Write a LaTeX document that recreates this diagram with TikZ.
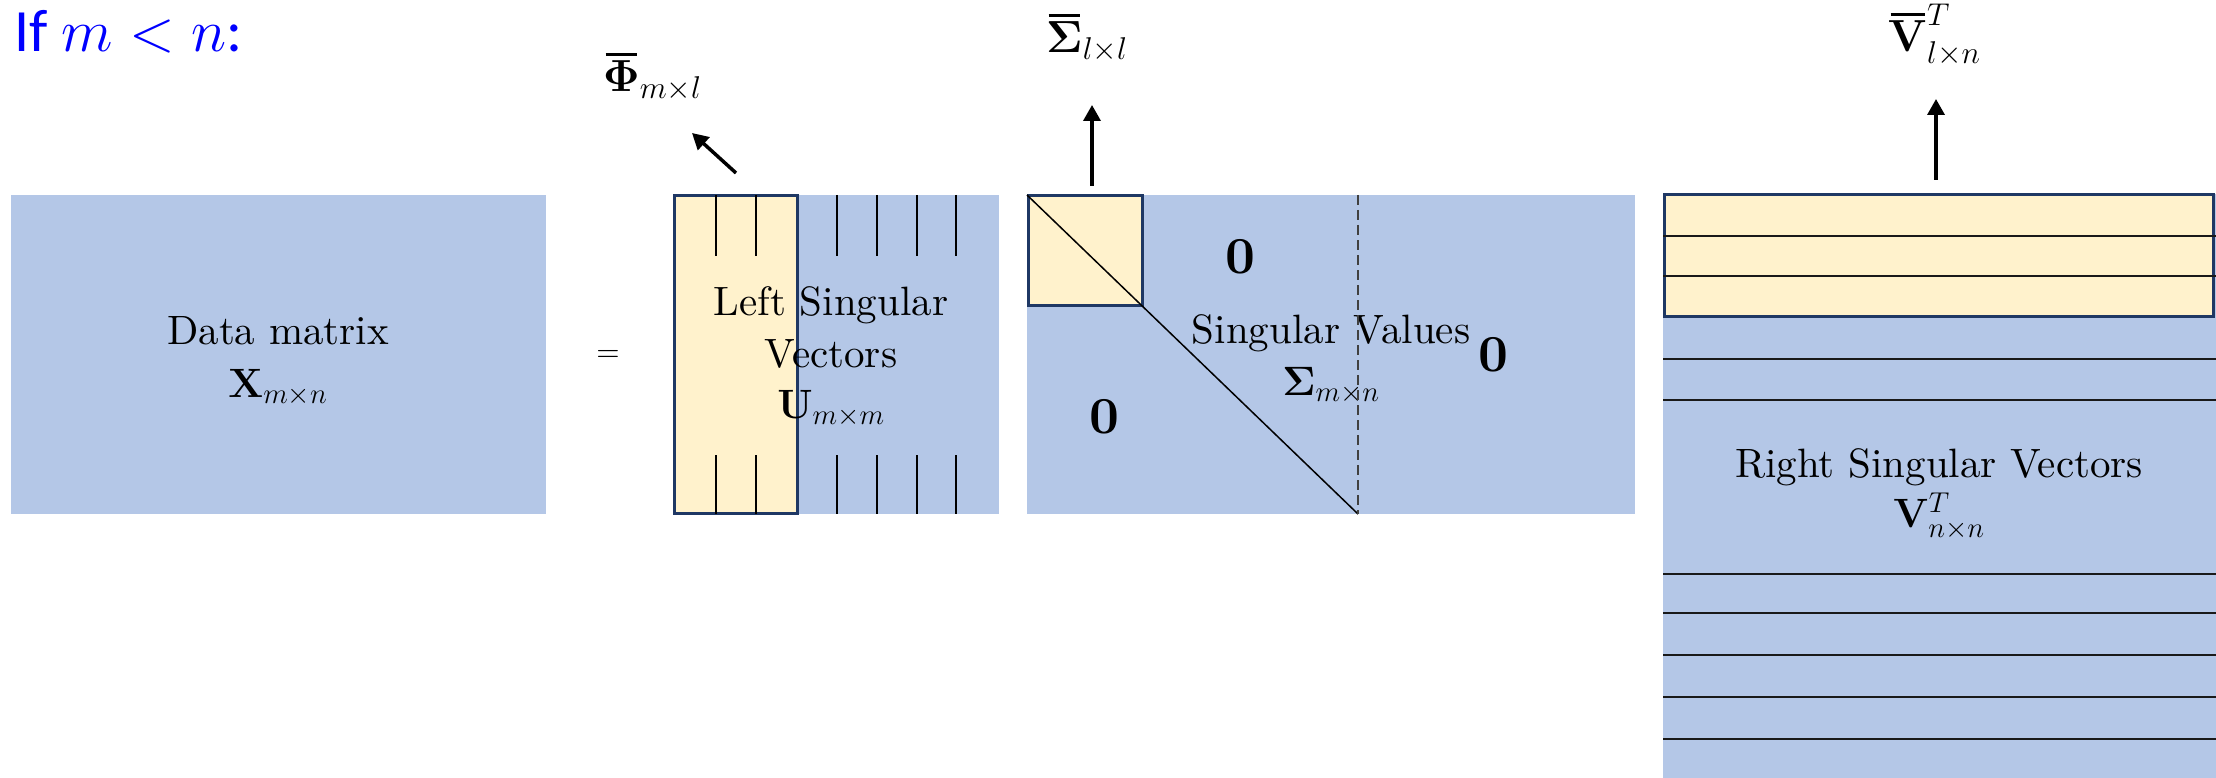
\RequirePackage{fix-cm}
\documentclass[tikz,border=0pt]{standalone}
\usepackage[no-math]{fontspec}
\setmainfont{lmroman10-regular.otf}[BoldFont=lmroman10-bold.otf, ItalicFont=lmroman10-italic.otf, BoldItalicFont=lmroman10-bolditalic.otf]
\newfontfamily\carlito{Carlito}
\usetikzlibrary{arrows.meta}
\definecolor{mblue}{HTML}{B4C7E7}
\definecolor{myel}{HTML}{FFF2CC}
\definecolor{navy}{HTML}{1F3864}
\definecolor{dgray}{HTML}{404040}
\definecolor{tblue}{RGB}{0,0,255}
\newcommand\tbar[1]{\setbox0\hbox{$#1$}\vbox{\offinterlineskip\moveright2.5pt\hbox{\vrule height 3pt depth 0pt width \dimexpr\wd0-5pt\relax}\vskip 5pt\box0}}
\begin{document}
\begin{tikzpicture}[x=1pt,y=-1pt,
  yelbox/.style={fill=myel, draw=navy, line width=3pt},
  gridln/.style={draw=black, line width=1.5pt},
  rowln/.style={draw=black!90, line width=2pt},
  dashln/.style={draw=dgray, line width=2pt, dash pattern=on 10pt off 5pt},
  arr/.style={line width=3.5pt, -{Triangle[length=16pt,width=17pt]}},
  txt/.style={inner sep=0pt, anchor=base, font=\fontsize{41}{52}\selectfont},
  lbl/.style={inner sep=0pt, anchor=base west, font=\fontsize{45}{52}\selectfont},
  zero/.style={inner sep=0pt, anchor=center, font=\fontsize{52}{60}\selectfont\bfseries},
]
\useasboundingbox (0,0) rectangle (2216,778);

% title
\node[anchor=base west, inner sep=0pt, text=tblue, font=\fontsize{60}{70}\selectfont] (title) at (14,52) {\carlito If $m<n$:};

% data matrix
\fill[mblue] (11,195) rectangle (546,514);
\node[txt] (dataA) at (278,344) {Data matrix};
\node[txt] (dataB) at (278,397) {$\mathbf{X}_{m\times n}$};

% equals
\node[inner sep=0pt, font=\fontsize{30}{36}\selectfont] (eq) at (608,356) {=};

% U
\fill[mblue] (674,195) rectangle (999,514);
\path[yelbox] (674,196) rectangle (797,513);
\foreach \x in {716,756,837,877,917,956} {
  \draw[gridln] (\x,195) -- (\x,256);
  \draw[gridln] (\x,455) -- (\x,514);
}
\node[txt] (uA) at (831,315) {Left Singular};
\node[txt] (uB) at (831,367) {Vectors};
\node[txt] (uC) at (831,418) {$\mathbf{U}_{m\times m}$};

% Sigma
\fill[mblue] (1027,195) rectangle (1635,514);
\path[yelbox] (1028,196) rectangle (1142,305);
\draw[gridln] (1027,195) -- (1358,514);
\node[txt] (sA) at (1331,343) {Singular Values};
\node[txt] (sB) at (1331,395) {$\mathbf{\Sigma}_{m\times n}$};
\draw[dashln] (1358,195) -- (1358,514);
\node[zero] (z1) at (1240,257) {0};
\node[zero] (z2) at (1104,417) {0};
\node[zero] (z3) at (1493,355) {0};

% V
\fill[mblue] (1663,194) rectangle (2216,778);
\path[yelbox] (1664,195) rectangle (2213,316);
\foreach \y in {236,276,359,400,574,613,655,697,739} {
  \draw[rowln] (1663,\y) -- (2216,\y);
}
\node[txt] (vA) at (1939,477) {Right Singular Vectors};
\node[txt] (vB) at (1939,527) {$\mathbf{V}^{T}_{n\times n}$};

% labels and arrows
\node[lbl] (phiL) at (603,92) {$\tbar{\mathbf{\Phi}}_{m\times l}$};
\node[lbl] (sigL) at (1046,53) {$\tbar{\mathbf{\Sigma}}_{l\times l}$};
\node[lbl] (vL) at (1888,52) {$\tbar{\mathbf{V}}^{T}_{l\times n}$};

\coordinate (phiT) at (736,173);
\coordinate (phiH) at (692,133);
\coordinate (sigT) at (1092,186);
\coordinate (sigH) at (1092,105);
\coordinate (vT) at (1936,180);
\coordinate (vH) at (1936,99);
\draw[arr] (phiT) -- (phiH);
\draw[arr] (sigT) -- (sigH);
\draw[arr] (vT) -- (vH);
\end{tikzpicture}
\end{document}
